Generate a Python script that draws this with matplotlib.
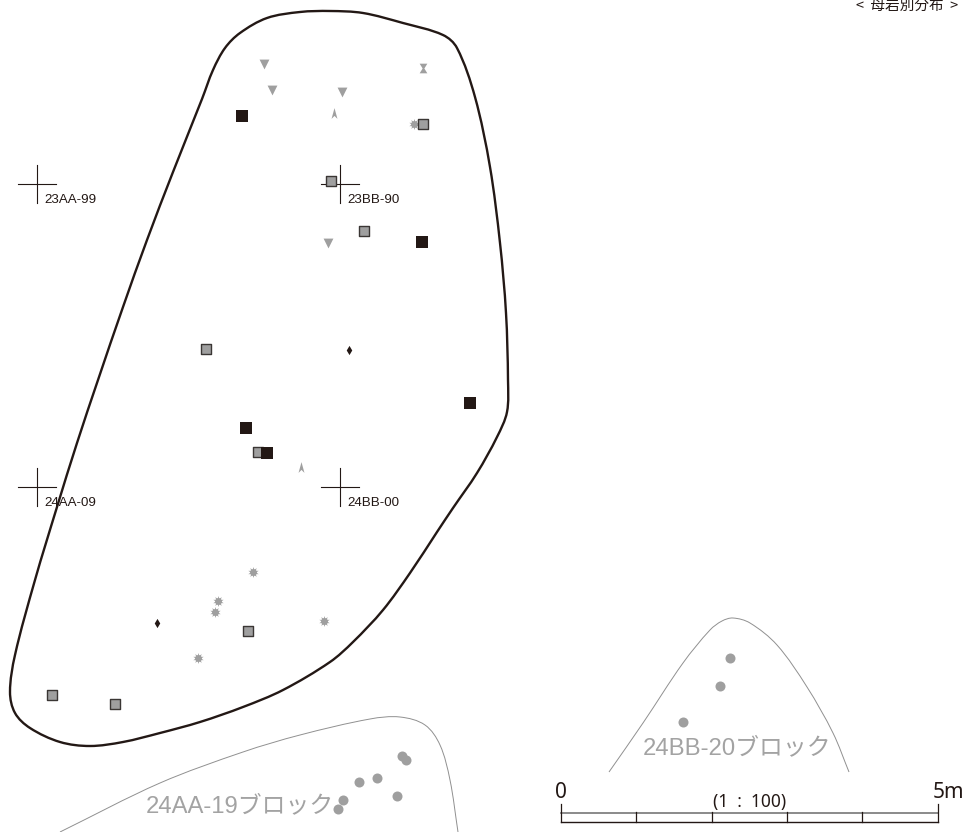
import math
import matplotlib
matplotlib.use('Agg')
import matplotlib.pyplot as plt
from matplotlib.path import Path
from matplotlib.patches import PathPatch

W, H = 971, 832
JP = ['Noto Sans CJK JP', 'DejaVu Sans']
MIX = ['Liberation Sans', 'Noto Sans CJK JP']
DARK = '#231815'
GREY = '#9f9f9f'

black_sq_x = [242, 422, 470, 246, 267]
black_sq_y = [116, 242, 403, 428, 453]
grey_sq_x = [423, 331, 364, 206, 258, 248, 52, 115]
grey_sq_y = [124, 181, 231, 349, 452, 631, 695, 704]
tri_down_x = [264, 272, 342, 328]
tri_down_y = [64, 90, 92, 243]
tri_up_x = [334, 301]
tri_up_y = [113, 467]
hourglass_x = [423]
hourglass_y = [68]
star_x = [414, 253, 218, 215, 324, 198]
star_y = [124, 572, 601, 612, 621, 658]
diamond_x = [349, 157]
diamond_y = [350, 623]
dot_x = [730, 720, 683, 402, 406, 377, 359, 397, 343, 338]
dot_y = [658, 686, 722, 756, 760, 778, 782, 796, 800, 809]

cross_x = [37, 340, 37, 340]
cross_y = [184, 184, 487, 487]
cross_labels = ['23AA-99', '23BB-90', '24AA-09', '24BB-00']

hull_x = [225, 240, 267, 300, 330, 363, 403, 443, 457, 475, 490, 500, 506, 508, 507, 497, 477, 453, 437, 410, 383,
          353, 330, 283, 243, 200, 160, 123, 90, 60, 30, 15, 10, 15, 35, 57, 77, 98, 123, 147, 173, 202, 213]
hull_y = [48, 33, 18, 12, 11, 13, 23, 35, 48, 97, 167, 243, 313, 380, 412, 437, 473, 508, 532, 573, 610,
          642, 662, 690, 707, 722, 733, 742, 746, 742, 728, 713, 692, 655, 580, 507, 443, 380, 307, 240, 172, 99, 70]

block_a_x = [60, 160, 243, 300, 370, 400, 425, 440, 450, 458]
block_a_y = [832, 783, 752, 735, 719, 717, 725, 745, 780, 832]
block_b_x = [609, 643, 683, 710, 722, 733, 750, 777, 807, 833, 849]
block_b_y = [772, 723, 663, 630, 621, 618, 623, 645, 687, 733, 772]

scale_ticks = [561, 636, 712, 787, 862, 938]

ARROW = Path([(0, 1), (0.55, -1), (0, -0.45), (-0.55, -1), (0, 1)],
             [Path.MOVETO, Path.LINETO, Path.LINETO, Path.LINETO, Path.CLOSEPOLY])
HOUR = Path([(-0.8, -1), (0.8, -1), (0.18, 0), (0.8, 1), (-0.8, 1), (-0.18, 0), (-0.8, -1)],
            [Path.MOVETO] + [Path.LINETO] * 5 + [Path.CLOSEPOLY])


def smooth(xs, ys, closed=False):
    pts = list(zip(xs, ys))
    n = len(pts)

    def tangent(i):
        if closed:
            a, b = pts[(i - 1) % n], pts[(i + 1) % n]
        else:
            a, b = pts[max(i - 1, 0)], pts[min(i + 1, n - 1)]
        dx, dy = b[0] - a[0], b[1] - a[1]
        d = math.hypot(dx, dy)
        return dx / d, dy / d

    verts, codes = [pts[0]], [Path.MOVETO]
    last = n if closed else n - 1
    for i in range(last):
        j = (i + 1) % n
        p1, p2 = pts[i], pts[j]
        seg = math.hypot(p2[0] - p1[0], p2[1] - p1[1]) / 3
        t1, t2 = tangent(i), tangent(j)
        verts += [(p1[0] + t1[0] * seg, p1[1] + t1[1] * seg),
                  (p2[0] - t2[0] * seg, p2[1] - t2[1] * seg), p2]
        codes += [Path.CURVE4] * 3
    return Path(verts, codes)


fig = plt.figure(figsize=(W / 100, H / 100), dpi=100)
ax = fig.add_axes([0, 0, 1, 1])
ax.set_xlim(0, W)
ax.set_ylim(H, 0)
ax.axis('off')

ax.add_patch(PathPatch(smooth(hull_x, hull_y, True), fc='none', ec=DARK, lw=1.7, zorder=2))
ax.add_patch(PathPatch(smooth(block_a_x, block_a_y), fc='none', ec='#909090', lw=0.7, zorder=2))
ax.add_patch(PathPatch(smooth(block_b_x, block_b_y), fc='none', ec='#909090', lw=0.7, zorder=2))

for x, y, label in zip(cross_x, cross_y, cross_labels):
    ax.plot([x - 19, x + 19], [y, y], color=DARK, lw=0.8, zorder=3)
    ax.plot([x, x], [y - 19, y + 19], color=DARK, lw=0.8, zorder=3)
    ax.text(x + 7.5, y + 16, label, fontsize=9.6, family='Liberation Sans', color=DARK,
            va='center', ha='left', zorder=6)

ax.scatter(star_x, star_y, marker=(10, 1, 0), s=62, c=GREY, lw=0, zorder=4)
ax.scatter(star_x, star_y, marker='o', s=24, c=GREY, lw=0, zorder=4)
ax.scatter(tri_down_x, tri_down_y, marker='v', s=50, c=GREY, lw=0, zorder=4)
ax.scatter(tri_up_x, tri_up_y, marker=ARROW, s=60, c=GREY, lw=0, zorder=4)
ax.scatter(hourglass_x, hourglass_y, marker=HOUR, s=48, c=GREY, lw=0, zorder=4)
ax.scatter(grey_sq_x, grey_sq_y, marker='s', s=48, c=GREY, edgecolors='#3a3634', lw=1.0, zorder=5)
ax.scatter(black_sq_x, black_sq_y, marker='s', s=72, c=DARK, lw=0, zorder=5)
ax.scatter(diamond_x, diamond_y, marker='d', s=22, c=DARK, lw=0, zorder=5)
ax.scatter(dot_x, dot_y, marker='o', s=52, c=GREY, lw=0, zorder=4)

ax.text(240, 806, '24AA-19ブロック', fontsize=17.2, family=MIX, color='#a3a3a3', ha='center', va='center', zorder=3.5)
ax.text(737, 748, '24BB-20ブロック', fontsize=17.2, family=MIX, color='#a3a3a3', ha='center', va='center', zorder=3.5)

ax.plot([scale_ticks[0], scale_ticks[-1]], [812.5, 812.5], color='#777777', lw=1.2, zorder=3)
ax.plot([scale_ticks[0], scale_ticks[-1]], [822, 822], color=DARK, lw=1.0, zorder=3)
for i, x in enumerate(scale_ticks):
    top = 804 if i in (0, len(scale_ticks) - 1) else 812
    ax.plot([x, x], [top, 822], color=DARK, lw=0.9, zorder=3)
ax.text(561, 793, '0', fontsize=15, family='Noto Sans', color=DARK, ha='center', va='center')
ax.text(949, 793, '5m', fontsize=15, family='Noto Sans', color=DARK, ha='center', va='center')
ax.text(750, 802, '(1  :  100)', fontsize=12.5, family='Noto Sans', color=DARK, ha='center', va='center')
ax.text(907, 5.5, '<  母岩別分布  >', fontsize=10.5, family=JP, color=DARK, ha='center', va='center')

fig.savefig('out.png', dpi=100)
